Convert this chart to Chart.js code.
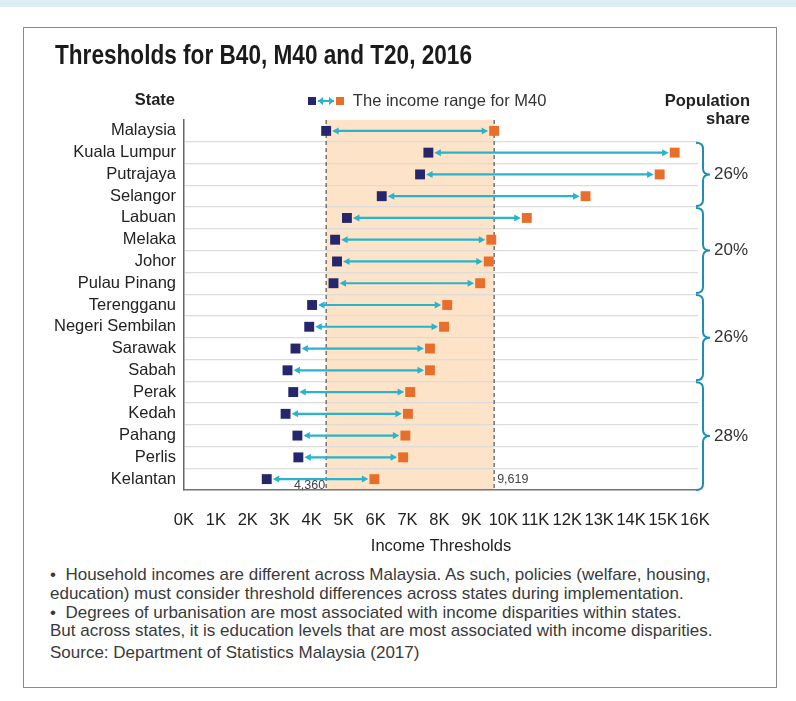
<!DOCTYPE html>
<html>
<head>
<meta charset="utf-8">
<script src="https://cdn.jsdelivr.net/npm/chart.js@4.4.0/dist/chart.umd.min.js"></script>
<style>
html, body { margin: 0; padding: 0; background: #fff; }
body { width: 796px; height: 701px; position: relative; overflow: hidden; font-family: "Liberation Sans", Arial, sans-serif; }
#strip { position: absolute; left: 0; top: 0; width: 796px; height: 7px; background: #dcedf4; }
#frame { position: absolute; left: 23px; top: 27px; width: 752px; height: 659px; border: 1.5px solid #8a8a8a; }
#title { position: absolute; left: 55px; top: 40px; font-family: "Liberation Sans", Arial, sans-serif; font-weight: bold; font-size: 27px; color: #1b1b1b; white-space: nowrap; transform-origin: 0 0; }
.head { position: absolute; font-weight: bold; font-size: 16.5px; color: #222; text-align: right; line-height: 18px; white-space: nowrap; }
#legend { position: absolute; left: 308px; top: 91px; font-size: 16.5px; color: #333; white-space: nowrap; line-height: 18px; }
.sq { display: inline-block; width: 8px; height: 8px; vertical-align: 1px; }
.arr { display: inline-block; position: relative; width: 16px; height: 2px; background: #27b4cc; vertical-align: 4px; margin: 0 2px; }
.arr::before, .arr::after { content: ""; position: absolute; top: -3px; border-top: 4px solid transparent; border-bottom: 4px solid transparent; }
.arr::before { left: 0; border-right: 5px solid #27b4cc; }
.arr::after { right: 0; border-left: 5px solid #27b4cc; }
#chartBox { position: absolute; left: 0; top: 0; width: 796px; height: 560px; }
#notes { position: absolute; left: 50px; top: 566px; font-size: 17px; line-height: 18.8px; color: #3a3a3a; white-space: nowrap; }
#source { margin-top: 3px; }
</style>
</head>
<body>
<div id="strip"></div>
<div id="frame"></div>
<div id="chartBox"><canvas id="chart"></canvas></div>
<div id="title">Thresholds for B40, M40 and T20, 2016</div>
<div class="head" style="right:621px; top:90px;">State</div>
<div class="head" style="right:46px; top:91px;">Population<br>share</div>
<div id="legend"><span class="sq" style="background:#25266b"></span><span class="arr"></span><span class="sq" style="background:#e86f2b"></span>&nbsp; The income range for M40</div>
<div id="notes">
  <div>&bull;&nbsp; Household incomes are different across Malaysia. As such, policies (welfare, housing,</div>
  <div>education) must consider threshold differences across states during implementation.</div>
  <div>&bull;&nbsp; Degrees of urbanisation are most associated with income disparities within states.</div>
  <div>But across states, it is education levels that are most associated with income disparities.</div>
  <div id="source">Source: Department of Statistics Malaysia (2017)</div>
</div>
<script>
// Data
const states = ['Malaysia', 'Kuala Lumpur', 'Putrajaya', 'Selangor', 'Labuan', 'Melaka', 'Johor',
    'Pulau Pinang', 'Terengganu', 'Negeri Sembilan', 'Sarawak', 'Sabah', 'Perak', 'Kedah',
    'Pahang', 'Perlis', 'Kelantan'];
const b40Upper = [4360, 7560, 7300, 6100, 5010, 4640, 4700, 4590, 3920, 3830, 3400, 3150, 3330, 3090, 3460, 3490, 2500];
const m40Upper = [9619, 15270, 14800, 12480, 10640, 9530, 9450, 9180, 8150, 8050, 7610, 7610, 6990, 6920, 6840, 6770, 5870];
const tickLabels = ['0K', '1K', '2K', '3K', '4K', '5K', '6K', '7K', '8K', '9K', '10K', '11K', '12K', '13K', '14K', '15K', '16K'];
const nationalRange = [4360, 9619];
const braceFirst = [1, 4, 8, 12];
const braceLast = [3, 7, 11, 16];
const shareLabels = ['26%', '20%', '26%', '28%'];

const NAVY = '#25266b';
const ORANGE = '#e86f2b';
const TEAL = '#27b4cc';
const BRACE = '#1f8fb0';

// squeeze the bold title to the condensed width of the original
const titleEl = document.getElementById('title');
titleEl.style.transform = 'scaleX(' + (417 / titleEl.getBoundingClientRect().width) + ')';

const bandPlugin = {
    id: 'band',
    beforeDraw(chart) {
        const { ctx, chartArea, scales } = chart;
        const x0 = scales.x.getPixelForValue(nationalRange[0]);
        const x1 = scales.x.getPixelForValue(nationalRange[1]);
        ctx.save();
        ctx.fillStyle = '#fde3c7';
        ctx.fillRect(x0, chartArea.top, x1 - x0, chartArea.bottom - chartArea.top);
        ctx.restore();
    },
    beforeDatasetsDraw(chart) {
        const { ctx, chartArea, scales } = chart;
        const x0 = scales.x.getPixelForValue(nationalRange[0]);
        const x1 = scales.x.getPixelForValue(nationalRange[1]);
        ctx.save();
        // dashed edges of the national M40 band
        ctx.strokeStyle = '#555';
        ctx.lineWidth = 1.2;
        ctx.setLineDash([4, 3]);
        [x0, x1].forEach(x => {
            ctx.beginPath();
            ctx.moveTo(x, chartArea.top);
            ctx.lineTo(x, chartArea.bottom);
            ctx.stroke();
        });
        ctx.setLineDash([]);

        // arrows between the two thresholds
        ctx.strokeStyle = TEAL;
        ctx.fillStyle = TEAL;
        ctx.lineWidth = 2.2;
        states.forEach((s, i) => {
            const y = scales.y.getPixelForValue(i);
            const a = scales.x.getPixelForValue(b40Upper[i]) + 6;
            const b = scales.x.getPixelForValue(m40Upper[i]) - 6;
            ctx.beginPath();
            ctx.moveTo(a + 4, y);
            ctx.lineTo(b - 4, y);
            ctx.stroke();
            ctx.beginPath();
            ctx.moveTo(a, y);
            ctx.lineTo(a + 6.5, y - 3.5);
            ctx.lineTo(a + 6.5, y + 3.5);
            ctx.closePath();
            ctx.fill();
            ctx.beginPath();
            ctx.moveTo(b, y);
            ctx.lineTo(b - 6.5, y - 3.5);
            ctx.lineTo(b - 6.5, y + 3.5);
            ctx.closePath();
            ctx.fill();
        });

        // value labels of the band
        ctx.fillStyle = '#444';
        ctx.font = '12.5px "Liberation Sans", Arial, sans-serif';
        ctx.textBaseline = 'bottom';
        ctx.textAlign = 'right';
        ctx.fillText(nationalRange[0].toLocaleString('en-US'), x0 - 1, chartArea.bottom + 2);
        ctx.textAlign = 'left';
        ctx.textBaseline = 'middle';
        ctx.fillText(nationalRange[1].toLocaleString('en-US'), x1 + 3, scales.y.getPixelForValue(states.length - 1));
        ctx.restore();
    }
};

const bracePlugin = {
    id: 'braces',
    afterDraw(chart) {
        const { ctx, chartArea, scales } = chart;
        const yAt = i => scales.y.getPixelForValue(i);
        const x0 = chartArea.right - 2;
        const xs = x0 + 7;
        const xt = x0 + 14;
        const r = 6;
        ctx.save();
        ctx.strokeStyle = BRACE;
        ctx.lineWidth = 2;
        ctx.font = '17px "Liberation Sans", Arial, sans-serif';
        ctx.fillStyle = '#333';
        ctx.textBaseline = 'middle';
        braceFirst.forEach((f, k) => {
            const l = braceLast[k];
            const top = (yAt(f - 1) + yAt(f)) / 2 + 1;
            const bot = l === states.length - 1 ? chartArea.bottom : (yAt(l) + yAt(l + 1)) / 2 - 1;
            const mid = (top + bot) / 2;
            ctx.beginPath();
            ctx.moveTo(x0, top);
            ctx.quadraticCurveTo(xs, top, xs, top + r);
            ctx.lineTo(xs, mid - r);
            ctx.quadraticCurveTo(xs, mid, xt, mid);
            ctx.quadraticCurveTo(xs, mid, xs, mid + r);
            ctx.lineTo(xs, bot - r);
            ctx.quadraticCurveTo(xs, bot, x0, bot);
            ctx.stroke();
            ctx.fillText(shareLabels[k], xt + 4, mid);
        });
        ctx.restore();
    }
};

const labelFont = { family: '"Liberation Sans", Arial, sans-serif', size: 16.5 };

new Chart(document.getElementById('chart'), {
    type: 'line',
    data: {
        labels: states,
        datasets: [
            {
                label: 'B40 upper threshold',
                data: b40Upper,
                showLine: false,
                pointStyle: 'rect',
                pointRadius: 7,
                pointHoverRadius: 7,
                pointBackgroundColor: NAVY,
                pointBorderWidth: 0
            },
            {
                label: 'M40 upper threshold',
                data: m40Upper,
                showLine: false,
                pointStyle: 'rect',
                pointRadius: 7,
                pointHoverRadius: 7,
                pointBackgroundColor: ORANGE,
                pointBorderWidth: 0
            }
        ]
    },
    options: {
        indexAxis: 'y',
        responsive: true,
        maintainAspectRatio: false,
        animation: false,
        events: [],
        layout: { padding: { top: 120, right: 98, bottom: 0, left: 0 } },
        plugins: { legend: { display: false }, tooltip: { enabled: false } },
        scales: {
            x: {
                type: 'linear',
                position: 'bottom',
                min: -90,
                max: 16000,
                afterBuildTicks: s => { s.ticks = tickLabels.map((t, i) => ({ value: i * 1000 })); },
                afterFit: s => { s.height = 70; },
                grid: { display: false },
                border: { display: true, color: '#777', width: 1.5 },
                ticks: {
                    padding: 13,
                    labelOffset: -3,
                    color: '#222',
                    font: labelFont,
                    maxRotation: 0,
                    autoSkip: false,
                    callback: (v, i) => tickLabels[i]
                },
                title: {
                    display: true,
                    text: 'Income Thresholds',
                    color: '#222',
                    font: labelFont,
                    padding: { top: 0, bottom: 4 }
                }
            },
            y: {
                type: 'category',
                offset: true,
                afterFit: s => { s.width = 184; },
                grid: {
                    offset: true,
                    drawTicks: false,
                    color: c => c.index === 0 ? 'rgba(0,0,0,0)' : '#dcdcdc',
                    lineWidth: 1.2
                },
                border: { display: true, color: '#666', width: 1.5 },
                ticks: { padding: 8, autoSkip: false, color: '#222', font: labelFont }
            }
        }
    },
    plugins: [bandPlugin, bracePlugin]
});
</script>
</body>
</html>
